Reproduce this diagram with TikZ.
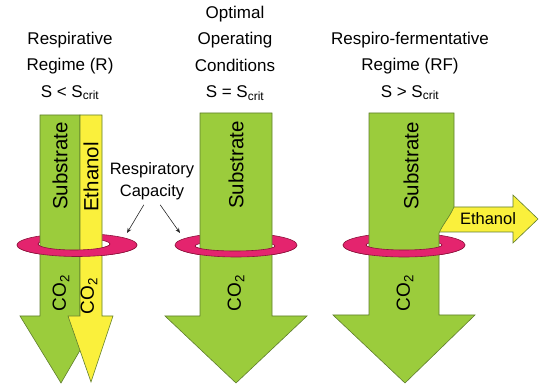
\documentclass[tikz,border=0pt]{standalone}
\usepackage{fontspec}
\setmainfont{Liberation Sans}
\usetikzlibrary{arrows.meta}
\definecolor{lgreen}{RGB}{155,204,60}
\definecolor{lyellow}{RGB}{250,240,60}
\definecolor{rpink}{RGB}{228,36,110}
\definecolor{edgegreen}{RGB}{95,125,45}
\definecolor{ringedge}{RGB}{140,20,60}
\begin{document}
\begin{tikzpicture}[x=1pt,y=-1pt,
  greenarrow/.style={fill=lgreen,draw=edgegreen,line width=0.6pt,line join=miter},
  yellowarrow/.style={fill=lyellow,draw=edgegreen,line width=0.6pt,line join=miter},
  ringfill/.style={fill=rpink,draw=ringedge,line width=0.6pt,even odd rule},
  title/.style={align=center,font=\fontsize{17}{26.5}\selectfont,inner sep=0pt},
  vtext/.style={rotate=90,font=\fontsize{20.5}{24}\selectfont,inner sep=0pt},
  cotext/.style={rotate=90,font=\fontsize{19}{22}\selectfont,inner sep=0pt},
  ptr/.style={-{Stealth[length=5pt,width=4pt]},line width=0.6pt,black!85}]
\useasboundingbox (0,0) rectangle (547,385);

% ---------- titles ----------
\node[title] (t1) at (70,66) {Respirative\\Regime (R)\\S < S\textsubscript{crit}};
\node[title] (t2) at (235,53) {Optimal\\Operating\\Conditions\\S = S\textsubscript{crit}};
\node[title] (t3) at (410,66) {Respiro-fermentative\\Regime (RF)\\S > S\textsubscript{crit}};

% ---------- left diagram ----------
\fill[ringfill] (77,245) ellipse [x radius=60,y radius=11.5] (74,244) ellipse [x radius=36,y radius=6];
\draw[greenarrow] (40,115) -- (80,115) -- (80,316) -- (100,316) -- (61,383) -- (20,316) -- (40,316) -- cycle;
\draw[yellowarrow] (80,115) -- (102,115) -- (102,316) -- (113,316) -- (91,382) -- (68,316) -- (80,316) -- cycle;
\begin{scope}
  \clip (0,244) rectangle (547,300);
  \fill[ringfill] (77,245) ellipse [x radius=60,y radius=11.5] (74,244) ellipse [x radius=36,y radius=6];
\end{scope}
\node[vtext] (sub1) at (60,166) {Substrate};
\node[vtext] (eth1) at (91,177) {Ethanol};
\node[cotext] (co1) at (61,293) {CO\textsubscript{2}};
\node[cotext] (co1b) at (89,296) {CO\textsubscript{2}};

% ---------- middle diagram ----------
\fill[ringfill] (236,245) ellipse [x radius=61,y radius=12] (235,246) ellipse [x radius=40,y radius=5];
\draw[greenarrow] (200,113) -- (272,113) -- (272,316) -- (307,316) -- (236,383) -- (165,316) -- (200,316) -- cycle;
\begin{scope}
  \clip (0,246) rectangle (547,300);
  \fill[ringfill] (236,245) ellipse [x radius=61,y radius=12] (235,246) ellipse [x radius=40,y radius=5];
\end{scope}
\node[vtext] (sub2) at (236,165) {Substrate};
\node[cotext] (co2) at (236,293) {CO\textsubscript{2}};

% ---------- right diagram ----------
\fill[ringfill] (404,245) ellipse [x radius=61,y radius=12] (404,245) ellipse [x radius=38,y radius=5];
\draw[yellowarrow] (430,207) -- (513,207) -- (513,195) -- (538,219) -- (513,243) -- (513,232) -- (430,232) -- cycle;
\draw[greenarrow] (369,113) -- (454,113) -- (454,207) .. controls (449,218) and (443,224) .. (439,233) -- (439,315) -- (475,315) -- (405,383) -- (333,315) -- (369,315) -- cycle;
\begin{scope}
  \clip (0,245) rectangle (547,300);
  \fill[ringfill] (404,245) ellipse [x radius=61,y radius=12] (404,245) ellipse [x radius=38,y radius=5];
\end{scope}
\node[vtext] (sub3) at (411,166) {Substrate};
\node[cotext] (co3) at (405,293) {CO\textsubscript{2}};
\node[font=\fontsize{16.5}{20}\selectfont,inner sep=0pt] (eth3) at (488,219) {Ethanol};

% ---------- respiratory capacity ----------
\node[align=center,font=\fontsize{16.5}{22}\selectfont,inner sep=1pt] (cap) at (152,181) {Respiratory\\Capacity};
\coordinate (ring1pt) at (127,233);
\coordinate (ring2pt) at (180,233);
\draw[ptr] (cap.250) ++(-1,4) -- (ring1pt);
\draw[ptr] (cap.290) ++(1,4) -- (ring2pt);
\end{tikzpicture}
\end{document}
